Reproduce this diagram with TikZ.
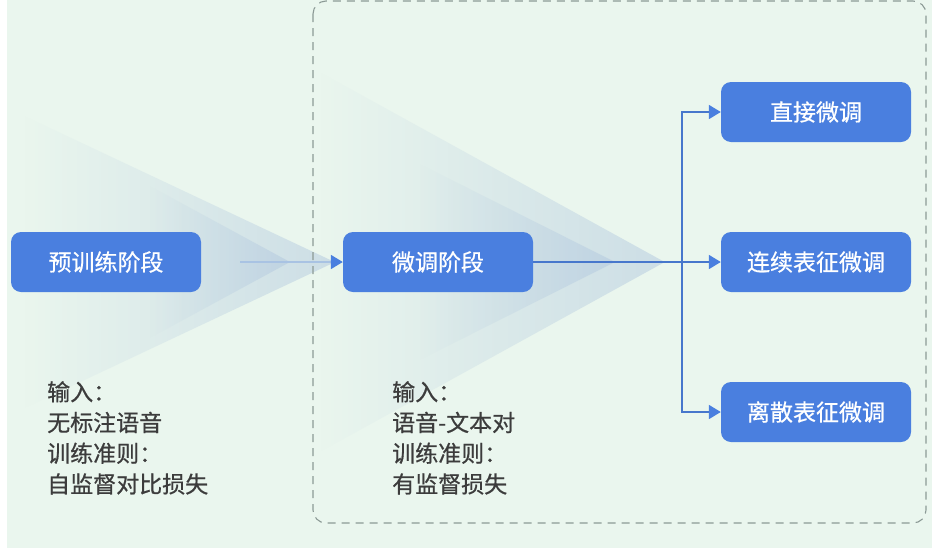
\documentclass[tikz,border=0pt]{standalone}
\usepackage{fontspec}
\setmainfont{Noto Sans CJK SC}
\newfontfamily\cjkmed[FakeBold=0.6]{Noto Sans CJK SC}
\usetikzlibrary{arrows.meta,fadings}
\definecolor{bgmint}{HTML}{EAF6EE}
\definecolor{boxblue}{HTML}{4A7FDF}
\definecolor{lineblue}{HTML}{4777CC}
\definecolor{faintblue}{HTML}{A9C3E3}
\definecolor{beam}{HTML}{AFC6DE}
\definecolor{dashgray}{HTML}{8C9A96}
\definecolor{txtgray}{HTML}{3C3C3C}
\tikzset{
  stagebox/.style={fill=boxblue, draw=none, rounded corners=10pt,
    minimum width=190pt, minimum height=60pt, inner sep=0pt,
    text=white, font=\cjkmed\fontsize{23}{27}\selectfont},
  note/.style={anchor=north west, inner sep=0pt, align=left, text=txtgray,
    font=\cjkmed\fontsize{23}{30.7}\selectfont},
  conn/.style={draw=lineblue, line width=1.8pt,
    -{Triangle[length=12pt,width=14pt,color=boxblue]}},
  beamouter/.style={fill=beam, fill opacity=0.5, path fading=west},
  beaminner/.style={fill=beam, fill opacity=0.5, path fading=west},
  group/.style={draw=dashgray, dash pattern=on 8pt off 6pt, line width=1.1pt, rounded corners=13pt}
}
\begin{document}
\begin{tikzpicture}[x=1pt,y=-1pt]
\useasboundingbox (0,0) rectangle (937,555);
\fill[white] (0,0) rectangle (937,555);
\fill[bgmint] (7,0) rectangle (932,548);
% light beams
\fill[beamouter] (335,262) -- (25,116) -- (25,408) -- cycle;
\fill[beaminner] (290,262) -- (150,186) -- (150,338) -- cycle;
\fill[beamouter] (665,262) -- (320,72) -- (320,452) -- cycle;
\fill[beaminner] (615,262) -- (420,164) -- (420,360) -- cycle;
% dashed group
\draw[group] (313,1) rectangle (926,523);
% nodes
\node[stagebox] (pre) at (106,262) {预训练阶段};
\node[stagebox] (ft) at (438,262) {微调阶段};
\node[stagebox] (b1) at (816,112) {直接微调};
\node[stagebox] (b2) at (816,262) {连续表征微调};
\node[stagebox] (b3) at (816,412) {离散表征微调};
\node[note] (n1) at (47,381) {输入：\\无标注语音\\训练准则：\\自监督对比损失};
\node[note] (n2) at (392,381) {输入：\\语音-文本对\\训练准则：\\有监督损失};
% connectors
\coordinate (lstart) at (240,262);
\coordinate (br) at (682,262);
\draw[conn, draw=faintblue] (lstart) -- (ft.west);
\draw[conn] (ft.east) -- (b2.west);
\draw[conn] (br) |- (b1.west);
\draw[conn] (br) |- (b3.west);
\end{tikzpicture}
\end{document}
